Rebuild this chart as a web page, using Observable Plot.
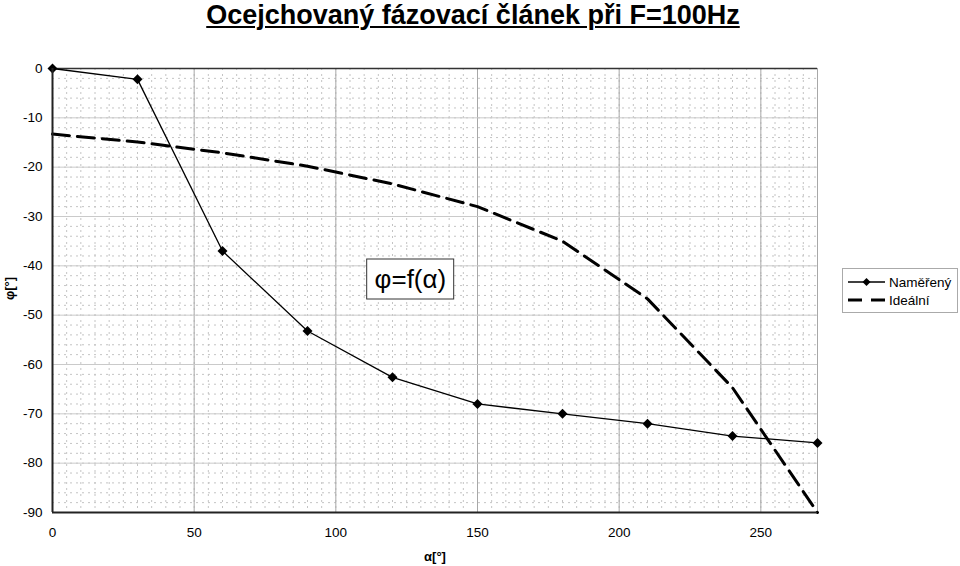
<!DOCTYPE html>
<html>
<head>
<meta charset="utf-8">
<script src="https://cdn.jsdelivr.net/npm/d3@7"></script>
<script src="https://cdn.jsdelivr.net/npm/@observablehq/plot@0.6"></script>
<style>
  body { margin: 0; background: #fff; font-family: "Liberation Sans", Arial, sans-serif; }
  #wrap { position: relative; width: 960px; height: 566px; overflow: hidden; }
  #wrap > svg { position: absolute; left: 0; top: 0; }
  .title { position: absolute; left: 0; width: 946px; top: 0px; text-align: center; font-weight: bold; font-size: 27px; line-height: 30px; text-decoration: underline; text-decoration-thickness: 2px; text-underline-offset: 2px; }
  .ylab { position: absolute; left: -6px; top: 281px; font-weight: bold; font-size: 13px; transform: rotate(-90deg); transform-origin: center; width: 30px; text-align: center; }
  .xlab { position: absolute; left: 415px; top: 549px; font-weight: bold; font-size: 13px; width: 40px; text-align: center; }
  .annot { position: absolute; border: 1.5px solid #333; background: #fff; font-size: 26px; padding: 0 7px; line-height: 39px; transform: translate(-50%, -50%); white-space: nowrap; }
  .legend { position: absolute; left: 842px; top: 268px; width: 114px; height: 43px; border: 1px solid #aaa; background: #fff; }
</style>
</head>
<body>
<div id="wrap"></div>
<script>
const alpha = [0, 30, 60, 90, 120, 150, 180, 210, 240, 270];
const measured = [0, -2.2, -37, -53.2, -62.6, -68, -70, -72, -74.5, -75.9];
const ideal = [-13.3, -14.9, -17.1, -19.8, -23.4, -28, -35, -46.7, -64.7, -90];
const seriesNames = ["Naměřený", "Ideální"];
const xTicks = [0, 50, 100, 150, 200, 250];
const yTicks = [0, -10, -20, -30, -40, -50, -60, -70, -80, -90];
const xMinor = d3.range(0, 271, 5);
const yMinor = d3.range(0, -91, -2);
const titleText = "Ocejchovaný fázovací článek při F=100Hz";
const annotText = "φ=f(α)";
const annotPos = {x: 126.5, y: -42.7};

const measData = alpha.map((a, i) => ({a, v: measured[i]}));
const idealData = alpha.map((a, i) => ({a, v: ideal[i]}));

const plot = Plot.plot({
  width: 960,
  height: 566,
  marginLeft: 52,
  marginRight: 143,
  marginTop: 68,
  marginBottom: 54,
  style: {fontFamily: "'Liberation Sans', Arial, sans-serif", fontSize: "13.5px", color: "#000", background: "transparent"},
  x: {domain: [0, 270]},
  y: {domain: [-90, 0]},
  marks: [
    Plot.ruleX(xMinor, {stroke: "#c4c4c4", strokeDasharray: "2,4", strokeWidth: 1}),
    Plot.ruleY(yMinor, {stroke: "#c4c4c4", strokeDasharray: "2,4", strokeWidth: 1}),
    Plot.ruleX(xTicks.concat([270]), {stroke: "#a8a8a8", strokeWidth: 1}),
    Plot.ruleY(yTicks, {stroke: "#cacaca", strokeWidth: 1}),
    Plot.ruleY([0], {stroke: "#333", strokeWidth: 1.5}),
    Plot.axisX(xTicks, {tickSize: 0, tickPadding: 15, label: null, tickFormat: d => String(d)}),
    Plot.axisY(yTicks, {tickSize: 0, tickPadding: 10, label: null, tickFormat: d => String(d)}),
    Plot.line(idealData, {x: "a", y: "v", stroke: "#000", strokeWidth: 3, strokeDasharray: "17,8"}),
    Plot.line(measData, {x: "a", y: "v", stroke: "#000", strokeWidth: 1.3}),
    Plot.dot(measData, {x: "a", y: "v", symbol: "diamond2", r: 4.5, fill: "#000", stroke: "none"}),
    Plot.ruleX([0], {stroke: "#222", strokeWidth: 2}),
    Plot.ruleY([-90], {stroke: "#222", strokeWidth: 2})
  ]
});

const wrap = document.getElementById("wrap");
wrap.appendChild(plot);

const t = document.createElement("div");
t.className = "title"; t.textContent = titleText; wrap.appendChild(t);

const yl = document.createElement("div");
yl.className = "ylab"; yl.textContent = "φ[°]"; wrap.appendChild(yl);

const xl = document.createElement("div");
xl.className = "xlab"; xl.textContent = "α[°]"; wrap.appendChild(xl);

const an = document.createElement("div");
an.className = "annot"; an.textContent = annotText;
an.style.left = plot.scale("x").apply(annotPos.x) + "px";
an.style.top = plot.scale("y").apply(annotPos.y) + "px";
wrap.appendChild(an);

// legend
const lg = document.createElement("div");
lg.className = "legend";
const ns = "http://www.w3.org/2000/svg";
const lsvg = document.createElementNS(ns, "svg");
lsvg.setAttribute("width", 114); lsvg.setAttribute("height", 43);
function add(tag, attrs, text) {
  const e = document.createElementNS(ns, tag);
  for (const k in attrs) e.setAttribute(k, attrs[k]);
  if (text) e.textContent = text;
  lsvg.appendChild(e); return e;
}
add("line", {x1: 5, x2: 42, y1: 13, y2: 13, stroke: "#000", "stroke-width": 1.3});
add("path", {d: "M23.5,9 L27.5,13 L23.5,17 L19.5,13 Z", fill: "#000"});
add("text", {x: 46, y: 17.5, "font-size": 13.5, "font-family": "'Liberation Sans', Arial, sans-serif"}, seriesNames[0]);
add("line", {x1: 5, x2: 42, y1: 31, y2: 31, stroke: "#000", "stroke-width": 3, "stroke-dasharray": "14,9"});
add("text", {x: 46, y: 35.5, "font-size": 13.5, "font-family": "'Liberation Sans', Arial, sans-serif"}, seriesNames[1]);
lg.appendChild(lsvg);
wrap.appendChild(lg);
</script>
</body>
</html>
